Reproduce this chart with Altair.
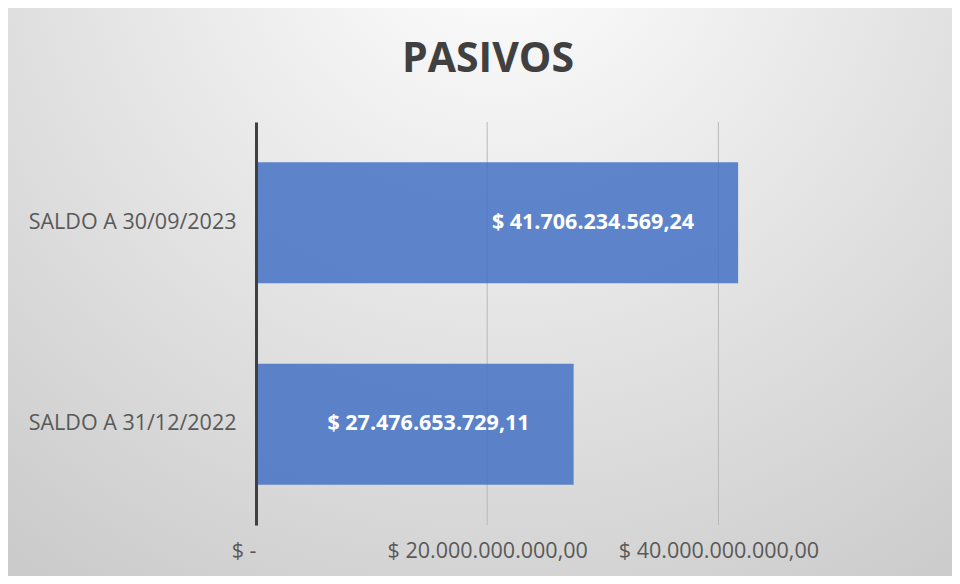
import altair as alt
import pandas as pd

categories = ["SALDO A 30/09/2023", "SALDO A 31/12/2022"]
values = [41706234569.24, 27476653729.11]
tick_values = [0, 20000000000, 40000000000]
title_text = ["PASIVOS"]

df = pd.DataFrame({"cat": categories, "val": values})

W, H = 578, 403
PAD_L, PAD_T = 248, 114
TOTAL_W, TOTAL_H = 944, 568

bg = alt.Chart(pd.DataFrame({"a": [0]})).mark_rect(
    color={
        "gradient": "radial",
        "x1": 0.52, "y1": 0.1, "r1": 0,
        "x2": 0.52, "y2": 0.1, "r2": 0.85,
        "stops": [
            {"offset": 0, "color": "#ffffff"},
            {"offset": 1, "color": "#cbcbcb"},
        ],
    }
).encode(
    x=alt.value(-PAD_L), x2=alt.value(TOTAL_W - PAD_L),
    y=alt.value(-PAD_T), y2=alt.value(TOTAL_H - PAD_T),
)

title = alt.Chart(pd.DataFrame({"t": title_text})).mark_text(
    fontSize=41, fontWeight="bold", color="#404040", font="Open Sans",
    baseline="middle", align="center"
).encode(text="t:N", x=alt.value(232), y=alt.value(-62))

xscale = alt.Scale(domain=[0, 50000000000], nice=False)
yscale = alt.Scale(domain=categories, paddingInner=0.4, paddingOuter=0.2)

grid = alt.Chart(pd.DataFrame({"t": tick_values[1:]})).mark_rule(
    color="#b8b8b8", strokeWidth=1
).encode(x=alt.X("t:Q", scale=xscale))

bars = alt.Chart(df).mark_bar(color="#4472C4", opacity=0.85).encode(
    x=alt.X("val:Q", scale=xscale,
            axis=alt.Axis(values=tick_values, format="$,.2f",
                          labelExpr="datum.value == 0 ? '$ -' : datum.label",
                          labelAlign=alt.expr("datum.value == 0 ? 'right' : 'center'"),
                          grid=False, ticks=False, domain=False,
                          labelFlush=False, labelLimit=0,
                          labelPadding=15, labelFontSize=21.5,
                          labelColor="#595959", labelFont="Open Sans",
                          title=None, zindex=1)),
    y=alt.Y("cat:N", scale=yscale, sort=categories,
            axis=alt.Axis(title=None, ticks=False, domainColor="#404040",
                          domainWidth=3, labelPadding=20, labelFontSize=21.5,
                          labelLimit=0,
                          labelColor="#595959", labelFont="Open Sans",
                          zindex=1)),
)

labels = alt.Chart(df).mark_text(
    align="right", dx=-44, color="#ffffff", fontWeight="bold",
    fontSize=21.5, font="Open Sans"
).encode(
    x=alt.X("val:Q", scale=xscale),
    y=alt.Y("cat:N", scale=yscale, sort=categories),
    text=alt.Text("val:Q", format="$,.2f"),
)

chart = alt.layer(bg, title, grid, bars, labels).properties(
    width=W, height=H,
    autosize=alt.AutoSizeParams(type="none"),
    padding={"left": PAD_L, "top": PAD_T,
             "right": TOTAL_W - PAD_L - W, "bottom": TOTAL_H - PAD_T - H},
).configure(
    locale={"number": {"decimal": ",", "thousands": ".", "grouping": [3],
                       "currency": ["$ ", ""]}}
).configure_view(stroke=None)

chart.save("out.html", embed_options={"renderer": "svg", "actions": False})
